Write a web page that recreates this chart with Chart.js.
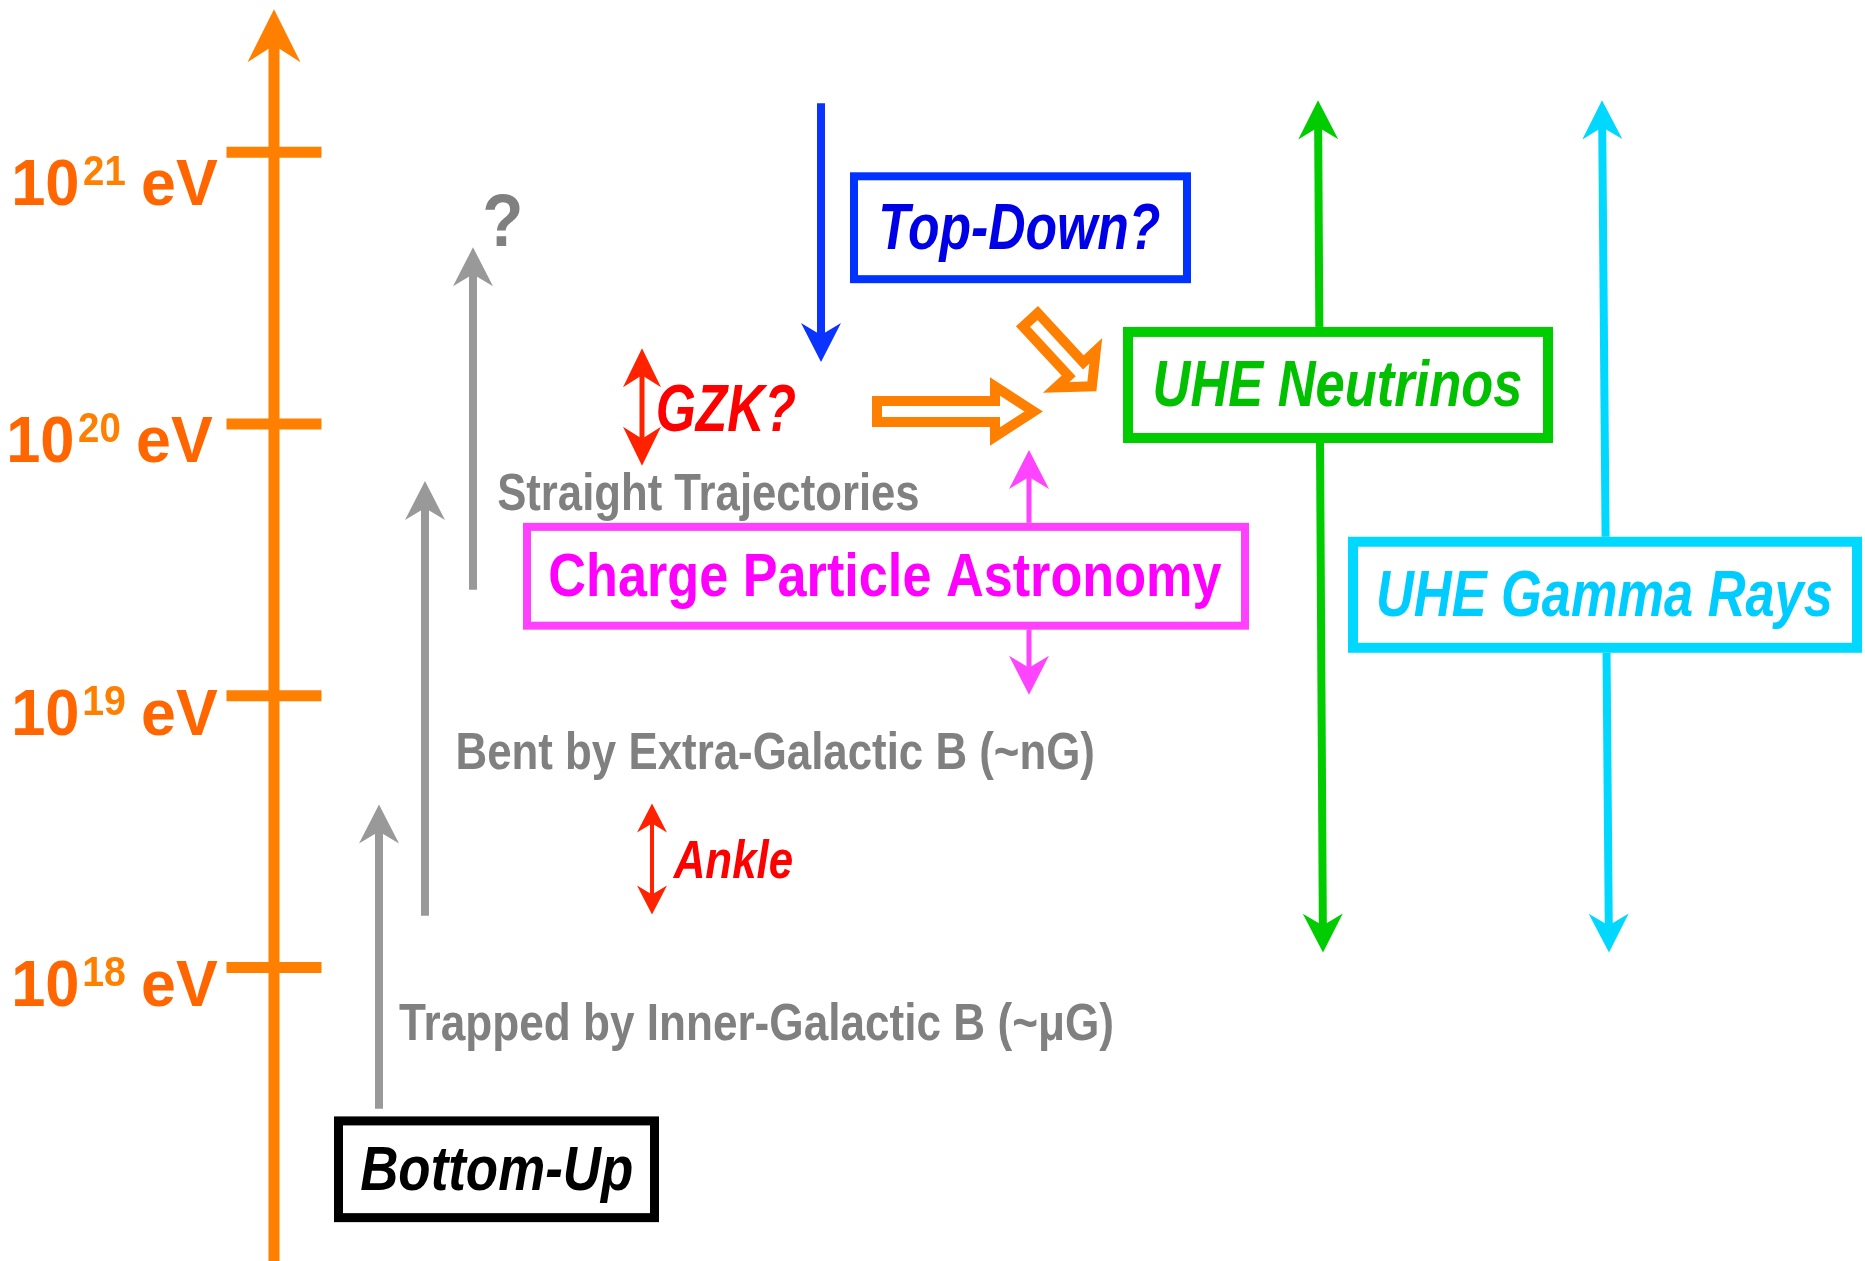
<!DOCTYPE html>
<html>
<head>
<meta charset="utf-8">
<script src="https://cdn.jsdelivr.net/npm/chart.js@4.4.1/dist/chart.umd.min.js"></script>
<style>
  html, body { margin: 0; padding: 0; background: #fff; }
  canvas { display: block; }
</style>
</head>
<body>
<canvas id="myChart" width="1865" height="1261"></canvas>
<script>
// energy axis, values are log10(E / eV)
var decades = [18, 19, 20, 21];
var decadeLabels = ["18", "19", "20", "21"];
var axisX = 274;
var axisBottom = 16.92;
var axisTip = 21.526;

// gray "bottom-up" arrows (x, start energy, end energy)
var grayX = [379, 425, 473];
var grayFrom = [17.48, 18.19, 19.39];
var grayTo = [18.60, 19.79, 20.65];

// propagation regimes: text, left edge, baseline energy
var regimeText = ["Trapped by Inner-Galactic B (~\u03bcG)", "Bent by Extra-Galactic B (~nG)", "Straight Trajectories"];
var regimeX = [399, 458, 498];
var regimeE = [17.733, 18.732, 19.684];

// spectral features (red double arrows)
var featureText = ["Ankle", "GZK?"];
var featureX = [652, 642];
var featureLow = [18.195, 19.846];
var featureHigh = [18.603, 20.279];

// top-down arrow
var topDownX = 821;
var topDownFrom = 21.18;
var topDownTo = 20.228;

// boxes
var boxText = ["Bottom-Up", "Charge Particle Astronomy", "Top-Down?", "UHE Neutrinos", "UHE Gamma Rays"];
var boxLeft = [334, 523, 850, 1123, 1348];
var boxRight = [659, 1249, 1191, 1553, 1862];
var boxTop = [17.452, 19.636, 20.926, 20.357, 19.585];
var boxBottom = [17.063, 19.243, 20.518, 19.930, 19.158];

// double arrows passing behind boxes (magenta, green, cyan)
var crossXLow = [1029, 1323, 1609];
var crossXHigh = [1029, 1318, 1602];
var crossLow = [19.004, 18.055, 18.055];
var crossHigh = [19.904, 21.191, 21.191];

// hollow orange arrows
var hollowFromX = [872, 1027];
var hollowFromE = [20.046, 20.397];
var hollowToX = [1044, 1097];
var hollowToE = [20.046, 20.118];

var FONT = '"Liberation Sans", Arial, sans-serif';

function fitText(ctx, str, left, base, w, size, color, italic) {
  ctx.save();
  ctx.font = (italic ? 'italic ' : '') + 'bold ' + size + 'px ' + FONT;
  ctx.fillStyle = color;
  ctx.textAlign = 'left';
  ctx.textBaseline = 'alphabetic';
  var m = ctx.measureText(str);
  var ink = m.actualBoundingBoxLeft + m.actualBoundingBoxRight;
  var k = w / ink;
  ctx.translate(left + m.actualBoundingBoxLeft * k, base);
  ctx.scale(k, 1);
  ctx.fillText(str, 0, 0);
  ctx.restore();
}

function head(ctx, tx, ty, ux, uy, st) {
  var bx = tx - ux * st.len, by = ty - uy * st.len;
  var back = st.len - st.notch;
  ctx.beginPath();
  ctx.moveTo(tx, ty);
  ctx.lineTo(bx - uy * st.half, by + ux * st.half);
  ctx.lineTo(tx - ux * back, ty - uy * back);
  ctx.lineTo(bx + uy * st.half, by - ux * st.half);
  ctx.closePath();
  ctx.fill();
}

function arrow(ctx, x0, y0, x1, y1, st, both) {
  var dx = x1 - x0, dy = y1 - y0, L = Math.hypot(dx, dy);
  var ux = dx / L, uy = dy / L;
  var back = st.len - st.notch - 1;
  var sx = both ? x0 + ux * back : x0, sy = both ? y0 + uy * back : y0;
  ctx.save();
  ctx.strokeStyle = st.color;
  ctx.fillStyle = st.color;
  ctx.lineWidth = st.width;
  ctx.lineCap = 'butt';
  ctx.beginPath();
  ctx.moveTo(sx, sy);
  ctx.lineTo(x1 - ux * back, y1 - uy * back);
  ctx.stroke();
  head(ctx, x1, y1, ux, uy, st);
  if (both) head(ctx, x0, y0, -ux, -uy, st);
  ctx.restore();
}

function hollowArrow(ctx, x0, y0, x1, y1, o) {
  var dx = x1 - x0, dy = y1 - y0, L = Math.hypot(dx, dy);
  var ux = dx / L, uy = dy / L, pxv = -uy, pyv = ux;
  var s = o.stroke / 2;
  var ang = Math.atan2(o.headHalf, o.headLen);
  var tip = L - s / Math.sin(ang);
  var tail = s, base = L - o.headLen + s;
  var hs = o.shaft / 2 - s, hh = o.headHalf - s;
  var pts = [[tail, hs], [base, hs], [base, hh], [tip, 0], [base, -hh], [base, -hs], [tail, -hs]];
  ctx.save();
  ctx.strokeStyle = o.color;
  ctx.fillStyle = '#fff';
  ctx.lineWidth = o.stroke;
  ctx.lineJoin = 'miter';
  ctx.miterLimit = 10;
  ctx.beginPath();
  pts.forEach(function (p, i) {
    var X = x0 + ux * p[0] + pxv * p[1], Y = y0 + uy * p[0] + pyv * p[1];
    if (i === 0) ctx.moveTo(X, Y); else ctx.lineTo(X, Y);
  });
  ctx.closePath();
  ctx.fill();
  ctx.stroke();
  ctx.restore();
}

var diagram = {
  id: 'diagram',
  beforeDraw: function (chart) {
    var ctx = chart.ctx;
    ctx.save();
    ctx.fillStyle = '#fff';
    ctx.fillRect(0, 0, chart.width, chart.height);
    ctx.restore();
  },
  beforeDatasetsDraw: function (chart, args, opts) {
    var ctx = chart.ctx;
    var X = function (v) { return chart.scales.x.getPixelForValue(v); };
    var Y = function (v) { return chart.scales.y.getPixelForValue(v); };
    // main energy axis
    arrow(ctx, X(axisX), Y(axisBottom), X(axisX), Y(axisTip),
      { color: '#FF8000', width: 11, len: 53, half: 26.5, notch: 17 }, false);
  },
  afterDatasetsDraw: function (chart, args, opts) {
    var ctx = chart.ctx;
    var X = function (v) { return chart.scales.x.getPixelForValue(v); };
    var Y = function (v) { return chart.scales.y.getPixelForValue(v); };
    var i;

    // decade labels 10^n eV
    for (i = 0; i < decades.length; i++) {
      var base = Y(decades[i]) + opts.labelDrop[i];
      var sh = opts.labelShift[i];
      fitText(ctx, "10", 15 + sh, base, 62, 64, '#FF6600', false);
      fitText(ctx, decadeLabels[i], 84 + sh, base - 20, 41, 43, '#FF8000', false);
      fitText(ctx, "eV", 143 + sh, base, 75, 64, '#FF6600', false);
    }

    // gray arrows + regime text
    for (i = 0; i < grayX.length; i++) {
      arrow(ctx, X(grayX[i]), Y(grayFrom[i]), X(grayX[i]), Y(grayTo[i]),
        { color: '#999999', width: 8, len: 39, half: 20, notch: 12 }, false);
    }
    var regimeW = [713, 635, 420];
    for (i = 0; i < regimeText.length; i++) {
      fitText(ctx, regimeText[i], X(regimeX[i]), Y(regimeE[i]), regimeW[i], 52, '#808080', false);
    }
    fitText(ctx, "?", X(grayX[2]) + 12, Y(grayTo[2]) - 1, 35, 75, '#808080', false);

    // red features
    var featStyle = [
      { len: 29, half: 15, notch: 9, width: 4, gap: 20, size: 53, w: 120 },
      { len: 39, half: 19, notch: 12, width: 5, gap: 16, size: 66, w: 137 }
    ];
    for (i = 0; i < featureText.length; i++) {
      var fs = featStyle[i];
      arrow(ctx, X(featureX[i]), Y(featureLow[i]), X(featureX[i]), Y(featureHigh[i]),
        { color: '#FF2200', width: fs.width, len: fs.len, half: fs.half, notch: fs.notch }, true);
      var midY = (Y(featureLow[i]) + Y(featureHigh[i])) / 2;
      fitText(ctx, featureText[i], X(featureX[i]) + fs.gap, midY + fs.size * 0.716 / 2,
        fs.w, fs.size, '#FF0000', true);
    }

    // top-down arrow
    arrow(ctx, X(topDownX), Y(topDownFrom), X(topDownX), Y(topDownTo),
      { color: '#0A33FF', width: 8, len: 39, half: 20, notch: 12 }, false);

    // double arrows behind boxes
    var crossColor = ['#FF44FF', '#00CC00', '#00D8FF'];
    var crossW = [5, 8, 8];
    for (i = 0; i < crossColor.length; i++) {
      arrow(ctx, X(crossXLow[i]), Y(crossLow[i]), X(crossXHigh[i]), Y(crossHigh[i]),
        { color: crossColor[i], width: crossW[i], len: 39, half: 20, notch: 12 }, true);
    }

    // hollow orange arrows
    var hollowStyle = [
      { color: '#FF8000', stroke: 10, shaft: 31, headHalf: 30, headLen: 54 },
      { color: '#FF8000', stroke: 10, shaft: 30, headHalf: 32, headLen: 36 }
    ];
    for (i = 0; i < hollowFromX.length; i++) {
      hollowArrow(ctx, X(hollowFromX[i]), Y(hollowFromE[i]), X(hollowToX[i]), Y(hollowToE[i]), hollowStyle[i]);
    }

    // boxes with labels
    var bs = opts.boxStyle;
    for (i = 0; i < boxText.length; i++) {
      var l = X(boxLeft[i]), r = X(boxRight[i]), t = Y(boxTop[i]), b = Y(boxBottom[i]);
      var lw = bs[i].lw;
      ctx.save();
      ctx.fillStyle = '#fff';
      ctx.fillRect(l, t, r - l, b - t);
      ctx.strokeStyle = bs[i].border;
      ctx.lineWidth = lw;
      ctx.strokeRect(l + lw / 2, t + lw / 2, r - l - lw, b - t - lw);
      ctx.restore();
      var cx = (l + r) / 2, cy = (t + b) / 2;
      fitText(ctx, boxText[i], cx - bs[i].w / 2, cy - 2 + bs[i].size * 0.716 / 2,
        bs[i].w, bs[i].size, bs[i].text, bs[i].italic);
    }
  }
};

new Chart("myChart", {
  type: "scatter",
  data: {
    datasets: [{
      // decade tick marks across the energy axis
      data: decades.map(function (d) { return { x: axisX, y: d }; }),
      pointStyle: 'line',
      pointRadius: 47.5,
      pointBorderWidth: 11,
      pointBorderColor: '#FF8000',
      pointBackgroundColor: '#FF8000'
    }]
  },
  options: {
    responsive: false,
    animation: false,
    devicePixelRatio: 1,
    events: [],
    layout: { padding: 0, autoPadding: false },
    scales: {
      x: { type: 'linear', min: 0, max: 1865, display: false },
      y: { type: 'linear', min: 16.92, max: 21.56, display: false }
    },
    plugins: {
      legend: { display: false },
      tooltip: { enabled: false },
      diagram: {
        labelDrop: [39, 39, 38, 53],
        labelShift: [0, 0, -5, 0],
        boxStyle: [
          { border: '#000000', text: '#000000', lw: 9, italic: true, size: 63, w: 271 },
          { border: '#FF40FF', text: '#FF00FF', lw: 8, italic: false, size: 62, w: 672 },
          { border: '#0033FF', text: '#0000E6', lw: 8, italic: true, size: 64, w: 278 },
          { border: '#00CC00', text: '#00C000', lw: 10, italic: true, size: 64, w: 366 },
          { border: '#00D8FF', text: '#00CCFF', lw: 10, italic: true, size: 64, w: 453 }
        ]
      }
    }
  },
  plugins: [diagram]
});
</script>
</body>
</html>
